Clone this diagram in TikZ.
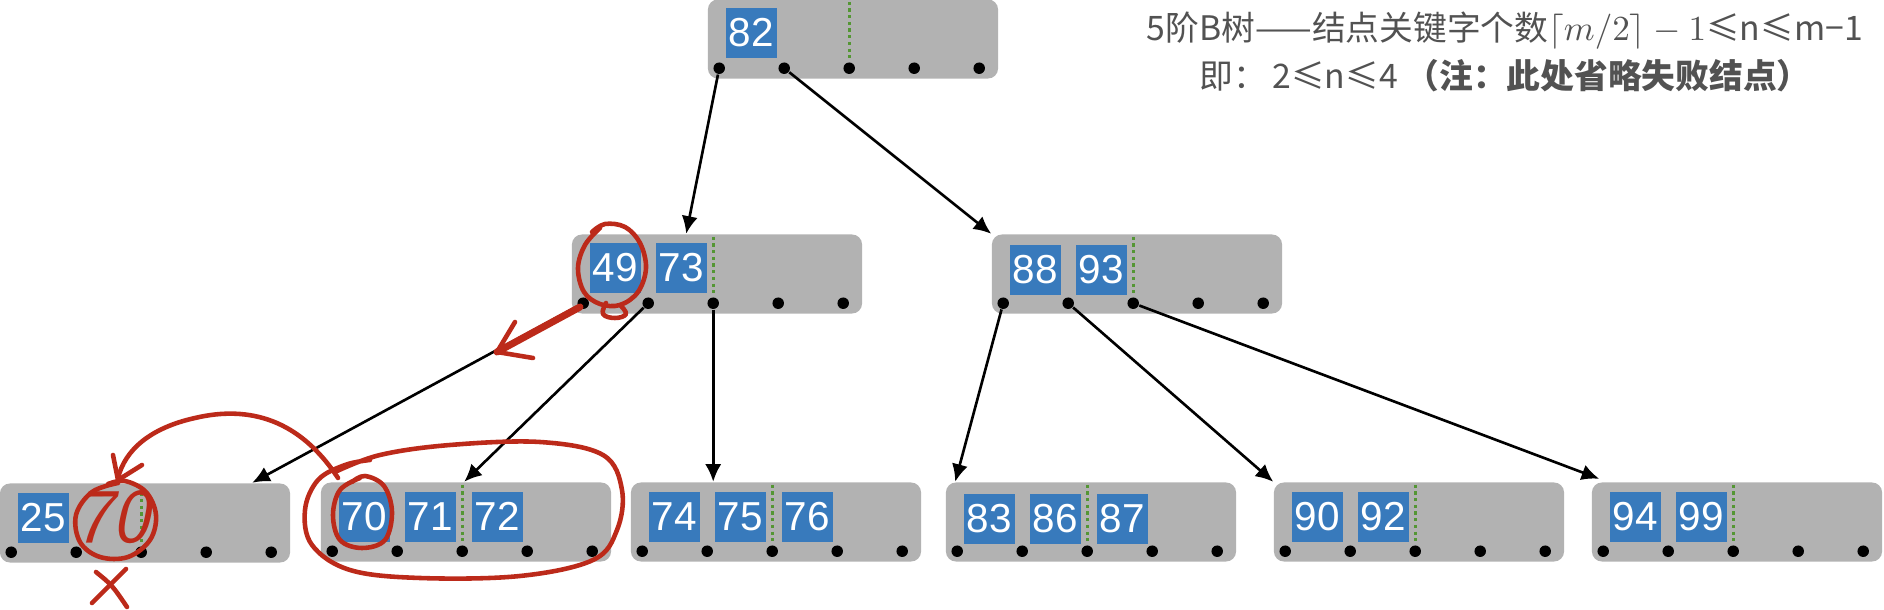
\documentclass[tikz,border=0pt]{standalone}
\usepackage{fontspec}
\setmainfont{Liberation Sans}
\newfontfamily\cjk{Noto Sans CJK SC}
\usetikzlibrary{arrows.meta}
\definecolor{boxgray}{RGB}{178,178,178}
\definecolor{keyblue}{RGB}{56,122,188}
\definecolor{splitgreen}{RGB}{84,150,52}
\definecolor{penred}{RGB}{188,42,26}
\definecolor{notegray}{RGB}{82,82,82}
\tikzset{
  bnode/.style={rounded corners=0.1cm,fill=boxgray,minimum width=2.9cm,minimum height=0.79cm,inner sep=0pt},
  keybox/.style={fill=keyblue,text=white,minimum width=0.51cm,minimum height=0.5cm,inner sep=0pt,font=\fontsize{11.5}{12}\selectfont},
  ptr/.style={circle,fill=black,inner sep=0pt,minimum size=0.115cm},
  split/.style={draw=splitgreen,densely dotted,line width=0.9pt},
  child/.style={draw=black,line width=0.75pt,-{Latex[length=5pt,width=4.6pt]}},
  penmark/.style={draw=penred,line width=1.3pt,line cap=round,line join=round}
}

\begin{document}
\begin{tikzpicture}[x=0.01cm,y=-0.01cm]
  \useasboundingbox (0,0) rectangle (1884,610);

  % B-tree nodes
  \node[bnode] (top) at (853,39) {};
  \node[bnode] (m1) at (717,274) {};
  \node[bnode] (m2) at (1137,274) {};
  \node[bnode] (l1) at (145,523) {};
  \node[bnode] (l2) at (466,522) {};
  \node[bnode] (l3) at (776,522) {};
  \node[bnode] (l4) at (1091,522) {};
  \node[bnode] (l5) at (1419,522) {};
  \node[bnode] (l6) at (1737,522) {};

  % pointer dots and the dotted split
  \foreach \b in {top,m1,m2,l1,l2,l3,l4,l5,l6}{
    \foreach \i in {1,...,5}
      \node[ptr] (\b-\i) at ([shift={({12+65*(\i-1)},-11)}]\b.south west) {};
    \draw[split] ([shift={(142,3)}]\b.north west) -- (\b-3.north);
  }

  % keys
  \node[keybox] (k82) at ([shift={(44,34)}]top.north west) {82};
  \node[keybox] (k49) at ([shift={(44,34)}]m1.north west) {49};
  \node[keybox] (k73) at ([shift={(110,34)}]m1.north west) {73};
  \node[keybox] (k88) at ([shift={(44,36)}]m2.north west) {88};
  \node[keybox] (k93) at ([shift={(110,36)}]m2.north west) {93};
  \node[keybox] (k25) at ([shift={(44,35)}]l1.north west) {25};
  \node[keybox] (k70) at ([shift={(44,35)}]l2.north west) {70};
  \node[keybox] (k71) at ([shift={(110,35)}]l2.north west) {71};
  \node[keybox] (k72) at ([shift={(177,35)}]l2.north west) {72};
  \node[keybox] (k74) at ([shift={(44,35)}]l3.north west) {74};
  \node[keybox] (k75) at ([shift={(110,35)}]l3.north west) {75};
  \node[keybox] (k76) at ([shift={(177,35)}]l3.north west) {76};
  \node[keybox] (k83) at ([shift={(44,37)}]l4.north west) {83};
  \node[keybox] (k86) at ([shift={(110,37)}]l4.north west) {86};
  \node[keybox] (k87) at ([shift={(177,37)}]l4.north west) {87};
  \node[keybox] (k90) at ([shift={(44,35)}]l5.north west) {90};
  \node[keybox] (k92) at ([shift={(110,35)}]l5.north west) {92};
  \node[keybox] (k94) at ([shift={(44,35)}]l6.north west) {94};
  \node[keybox] (k99) at ([shift={(110,35)}]l6.north west) {99};

  % child pointers
  \draw[child] (top-1) -- ([shift={(115,0)}]m1.north west);
  \draw[child] (top-2) -- (m2.north west);
  \draw[child] (m1-1) -- ([shift={(253,0)}]l1.north west);
  \draw[child] (m1-2) -- ([shift={(144,0)}]l2.north west);
  \draw[child] (m1-3) -- (m1-3 |- l3.north);
  \draw[child] (m2-1) -- ([shift={(10,0)}]l4.north west);
  \draw[child] (m2-2) -- (l5.north west);
  \draw[child] (m2-3) -- ([shift={(8,-3)}]l6.north west);

  % note
  \node[text=notegray,align=center,font=\cjk\fontsize{9.6}{13.8}\selectfont] (note) at (1505,52)
    {5阶B树——结点关键字个数$\lceil m/2\rceil-1$≤n≤m−1\\即：\,2≤n≤4 \textbf{（注：此处省略失败结点）}};

  % red pen marks
  \draw[penmark] plot[smooth,tension=0.6] coordinates {(600,228) (585,245) (578,268) (584,292) (600,304) (620,305) (638,292) (646,268) (640,243) (625,227) (605,224) (592,232)};
  \draw[penmark] plot[smooth,tension=0.7] coordinates {(606,303) (603,314) (615,318) (626,314) (620,305)};
  \draw[penmark,line width=2pt] (580,307) -- (497,352);
  \draw[penmark] (515,322) -- (497,352) -- (533,358);

  \node[text=penred,font=\sffamily\itshape\fontsize{22}{22}\selectfont] (hw70) at (112,517) {70};
  \draw[penmark] plot[smooth,tension=0.6] coordinates {(118,483) (92,492) (76,515) (80,542) (100,557) (128,557) (150,540) (156,515) (146,492) (125,481) (108,484)};
  \draw[penmark] (126,569) -- (92,603);
  \draw[penmark] (96,572) .. controls (112,585) .. (127,607);

  \draw[penmark] (338,478) .. controls (300,420) and (250,405) .. (195,418) .. controls (150,428) and (125,450) .. (118,478);
  \draw[penmark] (113,455) -- (118,480) -- (142,465);

  \draw[penmark] plot[smooth,tension=0.6] coordinates {(335,472) (380,455) (450,445) (540,442) (603,455) (622,490) (617,530) (593,560) (520,576) (420,578) (350,570) (312,545) (305,510) (318,480) (345,465) (370,460)};
  \draw[penmark] plot[smooth,tension=0.6] coordinates {(360,478) (340,490) (333,515) (340,540) (362,548) (385,540) (392,512) (384,486) (365,476) (352,482)};
\end{tikzpicture}
\end{document}
